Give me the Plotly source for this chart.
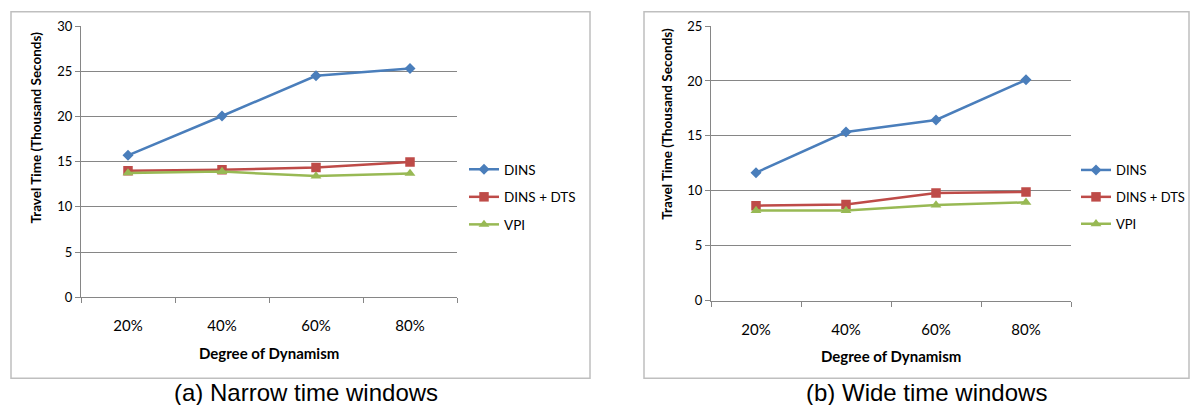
import plotly.graph_objects as go

# Degree of dynamism categories
categories = ["20%", "40%", "60%", "80%"]

# Travel time (thousand seconds) - narrow time windows
narrow_dins = [15.7, 20.05, 24.5, 25.3]
narrow_dins_dts = [14.0, 14.1, 14.35, 14.95]
narrow_vpi = [13.75, 13.9, 13.4, 13.7]

# Travel time (thousand seconds) - wide time windows
wide_dins = [11.65, 15.35, 16.45, 20.1]
wide_dins_dts = [8.65, 8.75, 9.8, 9.9]
wide_vpi = [8.2, 8.2, 8.7, 8.95]

series_names = ["DINS", "DINS + DTS", "VPI"]
colors = ["#4A7EBB", "#BE4B48", "#98B954"]
symbols = ["diamond", "square", "triangle-up"]
sizes = [8.5, 9.5, 9.5]

W, H = 1190, 405
FONT = "Lato, 'Open Sans', sans-serif"
GRID = "#868686"


def px(x):
    return x / W


def py(y):
    return 1 - y / H


fig = go.Figure()

panels = [
    ("x", "y", "legend", [narrow_dins, narrow_dins_dts, narrow_vpi]),
    ("x2", "y2", "legend2", [wide_dins, wide_dins_dts, wide_vpi]),
]
for xa, ya, lg, data in panels:
    for name, vals, c, s, sz in zip(series_names, data, colors, symbols, sizes):
        fig.add_trace(go.Scatter(
            x=categories, y=vals, name=name, mode="lines+markers",
            xaxis=xa, yaxis=ya, legend=lg, legendgroup=f"{lg}-{name}",
            line=dict(color=c, width=2.5),
            marker=dict(symbol=s, size=sz, color=c),
            hoverinfo="skip",
        ))

xcommon = dict(
    type="category", range=[-0.5, 3.5], tickson="boundaries",
    ticks="outside", ticklen=5, tickcolor=GRID, tickwidth=1,
    showline=True, linecolor=GRID, linewidth=1, showgrid=False,
    tickfont=dict(family=FONT, size=15, color="#000"),
    ticklabelstandoff=15, fixedrange=True,
)
ycommon = dict(
    dtick=5, ticks="outside", ticklen=5, tickcolor=GRID, tickwidth=1,
    showline=True, linecolor=GRID, linewidth=1,
    showgrid=True, gridcolor=GRID, gridwidth=1, zeroline=False,
    tickfont=dict(family=FONT, size=13, color="#000"),
    fixedrange=True,
)

legcommon = dict(
    bgcolor="rgba(0,0,0,0)", tracegroupgap=7, yanchor="top",
)

fig.update_layout(
    width=W, height=H,
    margin=dict(l=0, r=0, t=0, b=0, autoexpand=False),
    paper_bgcolor="white", plot_bgcolor="white",
    xaxis=dict(domain=[px(81), px(457)], anchor="y", **xcommon),
    yaxis=dict(domain=[py(297.3), py(26)], range=[0, 30], anchor="x", **ycommon),
    xaxis2=dict(domain=[px(711), px(1071)], anchor="y2", **xcommon),
    yaxis2=dict(domain=[py(300.7), py(26)], range=[0, 25], anchor="x2", **ycommon),
    legend=dict(x=px(464), y=py(154), xanchor="left",
                font=dict(family=FONT, size=13.5, color="#000"), **legcommon),
    legend2=dict(x=1.0, y=py(155), xanchor="right",
                 font=dict(family=FONT, size=13, color="#000"), **legcommon),
    showlegend=True,
)

# chart area borders
for x0, x1 in [(11, 590), (644, 1189)]:
    fig.add_shape(type="rect", xref="paper", yref="paper",
                  x0=px(x0), x1=px(x1), y0=py(378.3), y1=py(11.7),
                  line=dict(color="#BFBFBF", width=1.5), layer="below")

title_font = dict(family=FONT, size=13.5, color="#000")
xtitle_font = dict(family=FONT, size=15, color="#000")
caption_font = dict(family="'Liberation Sans', Arial, sans-serif", size=24, color="#000")
annos = [
    dict(text="<b>Travel Time (Thousand Seconds)</b>", x=px(35), y=py(127.5), textangle=-90, font=title_font),
    dict(text="<b>Travel Time (Thousand Seconds)</b>", x=px(666.7), y=py(124), textangle=-90, font=title_font),
    dict(text="<b>Degree of Dynamism</b>", x=px(269), y=py(353.3), font=xtitle_font),
    dict(text="<b>Degree of Dynamism</b>", x=px(891), y=py(355.7), font=xtitle_font),
    dict(text="(a) Narrow time windows", x=px(306), y=py(392.5), font=caption_font),
    dict(text="(b) Wide time windows", x=px(926), y=py(392.5), font=caption_font),
]
for a in annos:
    fig.add_annotation(xref="paper", yref="paper", showarrow=False,
                       xanchor="center", yanchor="middle", **a)

fig.write_html("out.html", config={"displayModeBar": False})
